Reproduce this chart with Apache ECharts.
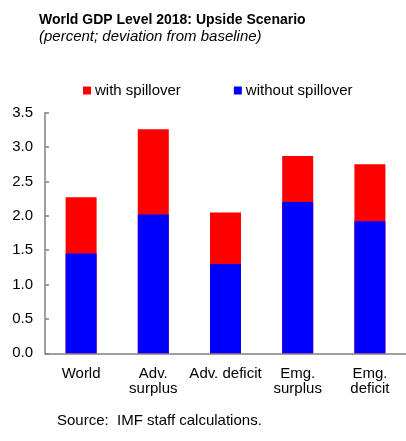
<!DOCTYPE html>
<html>
<head>
<meta charset="utf-8">
<script src="https://cdn.jsdelivr.net/npm/echarts@6/dist/echarts.min.js"></script>
<style>html,body{margin:0;padding:0;background:#fff}#c{width:406px;height:441px}</style>
</head>
<body>
<div id="c"></div>
<script>
const categories = ['World', 'Adv.\nsurplus', 'Adv. deficit', 'Emg.\nsurplus', 'Emg.\ndeficit'];
const withSpillover = [2.27, 3.26, 2.05, 2.87, 2.75];
const withoutSpillover = [1.45, 2.02, 1.30, 2.20, 1.92];
const yTicks = [0, 0.5, 1.0, 1.5, 2.0, 2.5, 3.0, 3.5];

const FONT = '"Liberation Sans", Arial, sans-serif';
const chart = echarts.init(document.getElementById('c'), null, {renderer: 'canvas'});
chart.setOption({
  animation: false,
  legend: {
    top: 83, left: 83, padding: 0, itemWidth: 8, itemHeight: 8, itemGap: 53,
    icon: 'rect',
    textStyle: {fontFamily: FONT, fontSize: 15, color: '#000', padding: [0, 0, 0, -1]},
    data: ['with spillover', 'without spillover']
  },
  grid: {left: 45, right: -13, top: 112.7, bottom: 441 - 353.3, containLabel: false},
  xAxis: {
    type: 'category', data: categories,
    axisLine: {lineStyle: {color: '#808080', width: 1.5}},
    axisTick: {show: false},
    axisLabel: {fontFamily: FONT, fontSize: 15, color: '#000', margin: 13, lineHeight: 15, interval: 0}
  },
  yAxis: {
    type: 'value', min: 0, max: 3.5, interval: 0.5,
    axisLine: {show: true, lineStyle: {color: '#808080', width: 1.5}},
    axisTick: {show: true, inside: true, length: 4, lineStyle: {color: '#808080', width: 1.5}},
    splitLine: {show: false},
    axisLabel: {fontFamily: FONT, fontSize: 15, color: '#000', margin: 12,
      formatter: v => yTicks.includes(v) ? v.toFixed(1) : ''}
  },
  series: [
    {name: 'with spillover', type: 'bar', data: withSpillover, barWidth: 31,
     itemStyle: {color: '#ff0000'}, z: 1},
    {name: 'without spillover', type: 'bar', data: withoutSpillover, barWidth: 31, barGap: '-100%',
     itemStyle: {color: '#0000ff'}, z: 2}
  ],
  graphic: [
    {type: 'text', x: 39, y: 20,
     style: {text: 'World GDP Level 2018: Upside Scenario', font: 'bold 14px ' + FONT, fill: '#000', verticalAlign: 'middle'}},
    {type: 'text', x: 39, y: 37,
     style: {text: '(percent; deviation from baseline)', font: 'italic 15px ' + FONT, fill: '#000', verticalAlign: 'middle'}},
    {type: 'text', x: 57, y: 420.5,
     style: {text: 'Source:  IMF staff calculations.', font: '15px ' + FONT, fill: '#000', verticalAlign: 'middle'}}
  ]
});
</script>
</body>
</html>
